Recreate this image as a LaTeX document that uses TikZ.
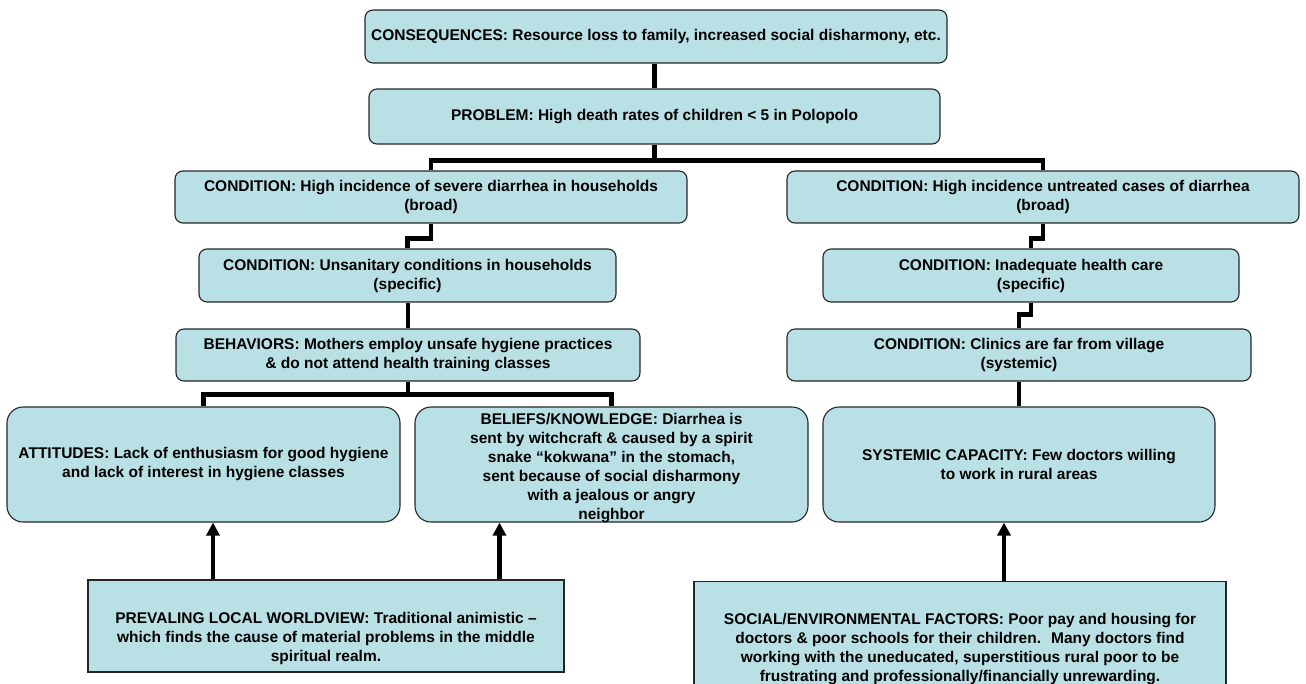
\documentclass[tikz,border=0pt]{standalone}
\usepackage{fontspec}
\setmainfont{Liberation Sans}
\usetikzlibrary{arrows.meta}
\definecolor{boxfill}{RGB}{185,224,228}
\begin{document}
\begin{tikzpicture}[x=1pt,y=-1pt,
  box/.style={draw=black!85, line width=1.1pt, fill=boxfill, rounded corners=8pt,
    align=center, inner sep=0pt, anchor=center,
    font=\bfseries\fontsize{15.5}{19}\selectfont},
  bigbox/.style={box, rounded corners=16pt},
  flatbox/.style={box, rounded corners=0pt},
  boxtext/.style={align=center, inner sep=0pt, anchor=center,
    font=\bfseries\fontsize{15.5}{19}\selectfont},
  conn/.style={line width=4.2pt},
  arr/.style={line width=4.2pt, -{Triangle[length=13pt,width=13pt]}}]
\useasboundingbox (0,0) rectangle (1306,683);
\clip (0,0) rectangle (1306,683);

% top of the tree
\node[box, minimum width=582, minimum height=53] (cons) at (656,36.5)
  {CONSEQUENCES: Resource loss to family, increased social disharmony, etc.};
\node[box, minimum width=571, minimum height=55] (prob) at (654.5,116.5)
  {PROBLEM: High death rates of children < 5 in Polopolo};

% conditions
\node[box, minimum width=512, minimum height=52] (condL) at (431,197)
  {CONDITION: High incidence of severe diarrhea in households\\(broad)};
\node[box, minimum width=512, minimum height=52] (condR) at (1043,197)
  {CONDITION: High incidence untreated cases of diarrhea\\(broad)};
\node[box, minimum width=417, minimum height=53] (specL) at (407.5,275.5)
  {CONDITION: Unsanitary conditions in households\\(specific)};
\node[box, minimum width=416, minimum height=53] (specR) at (1031,275.5)
  {CONDITION: Inadequate health care\\(specific)};
\node[box, minimum width=464, minimum height=52] (behav) at (408,355)
  {BEHAVIORS: Mothers employ unsafe hygiene practices\\\& do not attend health training classes};
\node[box, minimum width=464, minimum height=52] (clin) at (1019,355)
  {CONDITION: Clinics are far from village\\(systemic)};

% attitudes, beliefs, capacity
\node[bigbox, minimum width=393, minimum height=115] (att) at (203.5,464.5)
  {ATTITUDES: Lack of enthusiasm for good hygiene\\and lack of interest in hygiene classes};
\node[bigbox, minimum width=393, minimum height=115] (bel) at (611.5,464.5) {};
\node[boxtext] (beltext) at ([yshift=-4]bel.center)
  {BELIEFS/KNOWLEDGE: Diarrhea is\\sent by witchcraft \& caused by a spirit\\snake “kokwana” in the stomach,\\sent because of social disharmony\\with a jealous or angry\\neighbor};
\node[bigbox, minimum width=392, minimum height=115] (sys) at (1019,464.5)
  {SYSTEMIC CAPACITY: Few doctors willing\\to work in rural areas};

% underlying factors
\node[flatbox, minimum width=476, minimum height=92] (prev) at (326,626) {};
\node[boxtext] (prevtext) at ([yshift=-12]prev.center)
  {PREVALING LOCAL WORLDVIEW: Traditional animistic –\\which finds the cause of material problems in the middle\\spiritual realm.};
\node[flatbox, minimum width=532, minimum height=136] (soc) at (960,649.5)
  {SOCIAL/ENVIRONMENTAL FACTORS: Poor pay and housing for\\doctors \& poor schools for their children.~ Many doctors find\\working with the uneducated, superstitious rural poor to be\\frustrating and professionally/financially unrewarding.};

% connectors
\draw[conn] (prob.north) -- (prob.north |- cons.south);
\draw[conn] (prob.south) -- ++(0,16) -| (condL.north);
\draw[conn] (prob.south) ++(0,16) -| (condR.north);
\draw[conn] (condL.south) -- ++(0,15) -| (specL.north);
\draw[conn] (condR.south) -- ++(0,15) -| (specR.north);
\draw[conn] (behav.north) -- (behav.north |- specL.south);
\draw[conn] (specR.south) -- ++(0,12) -| (clin.north);
\draw[conn] (behav.south) -- ++(0,13) -| (att.north);
\draw[conn] (behav.south) ++(0,13) -| (bel.north);
\draw[conn] (clin.south) -- (sys.north);

% arrows from the factors
\draw[arr] ([xshift=9.5]att.south |- prev.north) -- ([xshift=9.5]att.south);
\draw[arr] ([xshift=-112]bel.south |- prev.north) -- ([xshift=-112]bel.south);
\draw[arr] ([xshift=-15]sys.south |- soc.north) -- ([xshift=-15]sys.south);
\end{tikzpicture}
\end{document}
